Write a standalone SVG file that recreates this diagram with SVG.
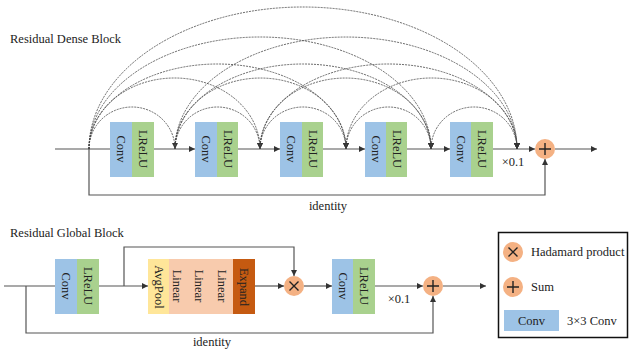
<svg xmlns="http://www.w3.org/2000/svg" width="629" height="350" viewBox="0 0 629 350">
<defs>
<marker id="ah" markerUnits="userSpaceOnUse" markerWidth="7" markerHeight="6" refX="6" refY="3" orient="auto">
<path d="M0,0 L6,3 L0,6 z" fill="#333"/>
</marker>
<style>
text{font-family:"Liberation Serif","Times New Roman",serif;font-size:12.5px;fill:#222}
.ln{fill:none;stroke:#555;stroke-width:1.2}
.arc{fill:none;stroke:#444;stroke-width:0.8;stroke-dasharray:2 1}
.conv{fill:#9DC3E6}
.relu{fill:#A9D18E}
.pool{fill:#FFE699}
.lin{fill:#F8CBAD}
.exp{fill:#C55A11}
.op{fill:#F4B183}
.sym{stroke:#222;stroke-width:1.4;fill:none}
.rt{text-anchor:middle;dominant-baseline:central}
</style>
</defs>
<rect width="629" height="350" fill="#fff"/>
<text x="10" y="43">Residual Dense Block</text>
<text x="10" y="237">Residual Global Block</text>

<g id="connectors">
<path class="ln" d="M55,149 H110"/>
<path class="ln" d="M154,149 H195" marker-end="url(#ah)"/>
<path class="ln" d="M238,149 H280" marker-end="url(#ah)"/>
<path class="ln" d="M323,149 H365" marker-end="url(#ah)"/>
<path class="ln" d="M407,149 H450" marker-end="url(#ah)"/>
<path class="ln" d="M493,149 H535" marker-end="url(#ah)"/>
<path class="ln" d="M555,149 H597" marker-end="url(#ah)"/>
<path class="ln" d="M89,149 V195 H545 V159" marker-end="url(#ah)"/>
<path class="arc" marker-end="url(#ah)" d="M89,149 A43,42 0 0 1 175,149"/>
<path class="arc" marker-end="url(#ah)" d="M89,149 A85.5,71 0 0 1 260,149"/>
<path class="arc" marker-end="url(#ah)" d="M89,149 A128.5,85 0 0 1 346,149"/>
<path class="arc" marker-end="url(#ah)" d="M89,149 A171,112 0 0 1 431,149"/>
<path class="arc" marker-end="url(#ah)" d="M89,149 A214,142 0 0 1 517,149"/>
<path class="arc" marker-end="url(#ah)" d="M175,149 A42.5,42 0 0 1 260,149"/>
<path class="arc" marker-end="url(#ah)" d="M175,149 A85.5,71 0 0 1 346,149"/>
<path class="arc" marker-end="url(#ah)" d="M175,149 A128,85 0 0 1 431,149"/>
<path class="arc" marker-end="url(#ah)" d="M175,149 A171,112 0 0 1 517,149"/>
<path class="arc" marker-end="url(#ah)" d="M260,149 A43,42 0 0 1 346,149"/>
<path class="arc" marker-end="url(#ah)" d="M260,149 A85.5,71 0 0 1 431,149"/>
<path class="arc" marker-end="url(#ah)" d="M260,149 A128.5,85 0 0 1 517,149"/>
<path class="arc" marker-end="url(#ah)" d="M346,149 A42.5,42 0 0 1 431,149"/>
<path class="arc" marker-end="url(#ah)" d="M346,149 A85.5,71 0 0 1 517,149"/>
<path class="arc" marker-end="url(#ah)" d="M431,149 A43,42 0 0 1 517,149"/>
<path class="ln" d="M4,286 H55"/>
<path class="ln" d="M99,286 H148" marker-end="url(#ah)"/>
<path class="ln" d="M124,286 V247 H294 V276" marker-end="url(#ah)"/>
<path class="ln" d="M255,286 H284" marker-end="url(#ah)"/>
<path class="ln" d="M304,286 H332" marker-end="url(#ah)"/>
<path class="ln" d="M375,286 H423" marker-end="url(#ah)"/>
<path class="ln" d="M443,286 H486" marker-end="url(#ah)"/>
<path class="ln" d="M26,286 V333 H433 V296" marker-end="url(#ah)"/>
</g>

<text x="328" y="210" text-anchor="middle">identity</text>
<text x="513" y="166" text-anchor="middle">×0.1</text>
<text x="212" y="346" text-anchor="middle">identity</text>
<text x="399" y="303" text-anchor="middle">×0.1</text>

<g id="rdb1"><rect class="conv" x="110" y="122" width="22" height="55"/><rect class="relu" x="132" y="122" width="22" height="55"/>
<text class="rt" x="121" y="149" transform="rotate(90 121 149)">Conv</text><text class="rt" x="143" y="149" transform="rotate(90 143 149)">LReLU</text></g>
<g id="rdb2"><rect class="conv" x="195" y="122" width="22" height="55"/><rect class="relu" x="217" y="122" width="21" height="55"/>
<text class="rt" x="206" y="149" transform="rotate(90 206 149)">Conv</text><text class="rt" x="227.5" y="149" transform="rotate(90 227.5 149)">LReLU</text></g>
<g id="rdb3"><rect class="conv" x="280" y="122" width="22" height="55"/><rect class="relu" x="302" y="122" width="21" height="55"/>
<text class="rt" x="291" y="149" transform="rotate(90 291 149)">Conv</text><text class="rt" x="312.5" y="149" transform="rotate(90 312.5 149)">LReLU</text></g>
<g id="rdb4"><rect class="conv" x="365" y="122" width="21" height="55"/><rect class="relu" x="386" y="122" width="21" height="55"/>
<text class="rt" x="375.5" y="149" transform="rotate(90 375.5 149)">Conv</text><text class="rt" x="396.5" y="149" transform="rotate(90 396.5 149)">LReLU</text></g>
<g id="rdb5"><rect class="conv" x="450" y="122" width="21" height="55"/><rect class="relu" x="471" y="122" width="22" height="55"/>
<text class="rt" x="460.5" y="149" transform="rotate(90 460.5 149)">Conv</text><text class="rt" x="482" y="149" transform="rotate(90 482 149)">LReLU</text></g>
<g id="sum1"><circle class="op" cx="545" cy="149" r="10"/><path class="sym" d="M539,149 H551 M545,143 V155"/></g>

<g id="rgb1"><rect class="conv" x="55" y="259" width="22" height="55"/><rect class="relu" x="77" y="259" width="22" height="55"/>
<text class="rt" x="66" y="286" transform="rotate(90 66 286)">Conv</text><text class="rt" x="88" y="286" transform="rotate(90 88 286)">LReLU</text></g>
<g id="global"><rect class="pool" x="148" y="259" width="21" height="55"/><rect class="lin" x="169" y="259" width="64" height="55"/><rect class="exp" x="233" y="259" width="22" height="55"/>
<text class="rt" x="158.5" y="287" transform="rotate(90 158.5 287)">AvgPool</text>
<text class="rt" x="177" y="286" transform="rotate(90 177 286)">Linear</text>
<text class="rt" x="199" y="286" transform="rotate(90 199 286)">Linear</text>
<text class="rt" x="222" y="286" transform="rotate(90 222 286)">Linear</text>
<text class="rt" x="244" y="287" transform="rotate(90 244 287)">Expand</text></g>
<g id="had"><circle class="op" cx="294" cy="286" r="10"/><path class="sym" d="M289.5,281.5 L298.5,290.5 M298.5,281.5 L289.5,290.5"/></g>
<g id="rgb2"><rect class="conv" x="332" y="259" width="21" height="55"/><rect class="relu" x="353" y="259" width="22" height="55"/>
<text class="rt" x="342.5" y="286" transform="rotate(90 342.5 286)">Conv</text><text class="rt" x="364" y="286" transform="rotate(90 364 286)">LReLU</text></g>
<g id="sum2"><circle class="op" cx="433" cy="286" r="10"/><path class="sym" d="M427,286 H439 M433,280 V292"/></g>

<g id="legend">
<rect x="498.5" y="232.5" width="129" height="105" fill="none" stroke="#111" stroke-width="1.5"/>
<circle class="op" cx="513" cy="252" r="10"/><path class="sym" d="M508.5,247.5 L517.5,256.5 M517.5,247.5 L508.5,256.5"/>
<text x="531" y="256">Hadamard product</text>
<circle class="op" cx="513" cy="287" r="10"/><path class="sym" d="M507,287 H519 M513,281 V293"/>
<text x="531" y="291">Sum</text>
<rect class="conv" x="504" y="310" width="55" height="21"/>
<text x="531.5" y="325" text-anchor="middle">Conv</text>
<text x="567" y="325">3×3 Conv</text>
</g>
</svg>
